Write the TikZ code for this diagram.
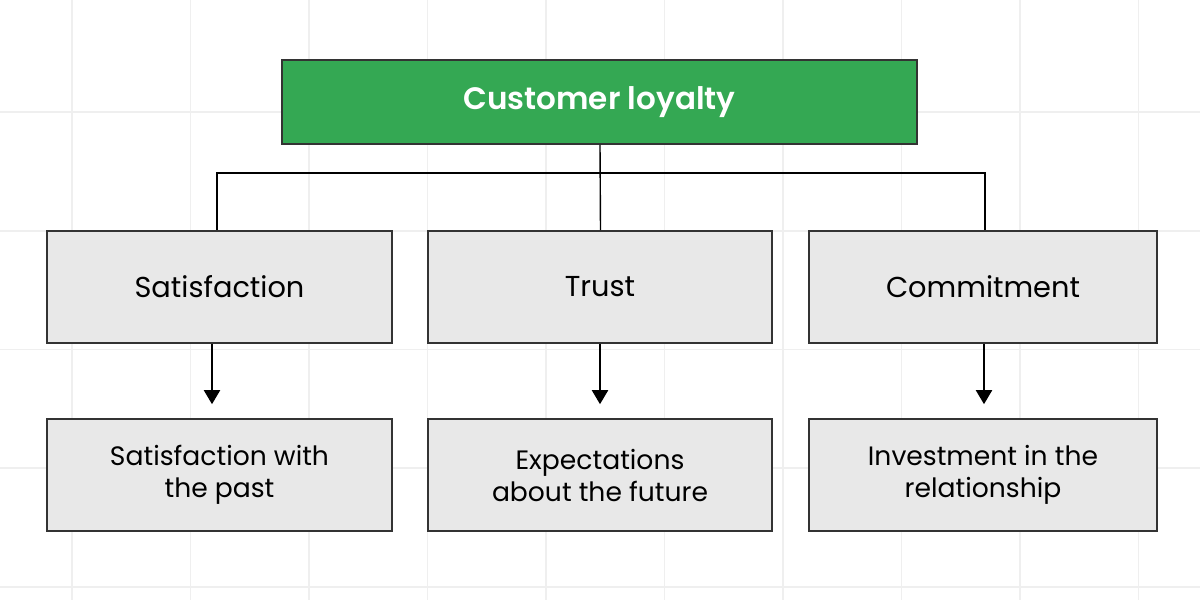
\documentclass[tikz,border=0pt]{standalone}
\usepackage{fontspec}
\setmainfont{Poppins}
\newfontfamily\semib{Poppins SemiBold}
\usetikzlibrary{arrows.meta}
\definecolor{gridc}{HTML}{EFEFEF}
\definecolor{gbox}{HTML}{34A853}
\definecolor{lbox}{HTML}{E8E8E8}
\definecolor{edge}{HTML}{333333}
\tikzset{
  boxstyle/.style={draw=edge, line width=0.8pt, fill=lbox, minimum height=56pt, inner sep=0pt, align=center, font=\fontsize{14.4}{16}\selectfont, text=black},
  lowbox/.style={boxstyle, font=\fontsize{13.3}{16}\selectfont},
  topbox/.style={draw=edge, line width=0.8pt, fill=gbox, minimum width=317.5pt, minimum height=42pt, inner sep=0pt, font=\fontsize{15.5}{16}\semib, text=white},
  link/.style={draw=black, line width=0.7pt},
  arr/.style={draw=black, line width=1pt, -{Triangle[width=8pt,length=7pt]}, shorten >=7pt}
}
\begin{document}
\begin{tikzpicture}[x=0.5pt,y=-0.5pt]
\fill[white] (0,0) rectangle (1200,600);
\useasboundingbox (0,0) rectangle (1200,600);
\foreach \i in {0,...,9} {\draw[gridc, line width=0.8pt] ({72+\i*118.5},0) -- ({72+\i*118.5},600);}
\foreach \j in {0,...,4} {\draw[gridc, line width=0.8pt] (0,{112+\j*118.75}) -- (1200,{112+\j*118.75});}
\node[topbox] (g) at (599.5,102) {Customer loyalty};
\node[boxstyle, minimum width=172.5pt] (m1) at (219.5,287) {Satisfaction};
\node[boxstyle, minimum width=172pt] (m2) at (600,287) {Trust};
\node[boxstyle, minimum width=174pt] (m3) at (983,287) {Commitment};
\node[lowbox, minimum width=172.5pt] (b1) at (219.5,475) {Satisfaction with\\the past};
\node[lowbox, minimum width=172pt] (b2) at (600,475) {Expectations\\about the future};
\node[lowbox, minimum width=174pt] (b3) at (983,475) {Investment in the\\relationship};
\coordinate (j) at (600.5,173);
\draw[link] ([xshift=0.25pt]g.south) -- ([xshift=0.25pt]m2.north);
\draw[link] ([xshift=-1.25pt]m1.north) |- (j) -| ([xshift=1pt]m3.north);
\draw[arr] ([xshift=-3.75pt]m1.south) -- ([xshift=-3.75pt]b1.north);
\draw[arr] (m2.south) -- (b2.north);
\draw[arr] ([xshift=0.5pt]m3.south) -- ([xshift=0.5pt]b3.north);
\end{tikzpicture}
\end{document}
